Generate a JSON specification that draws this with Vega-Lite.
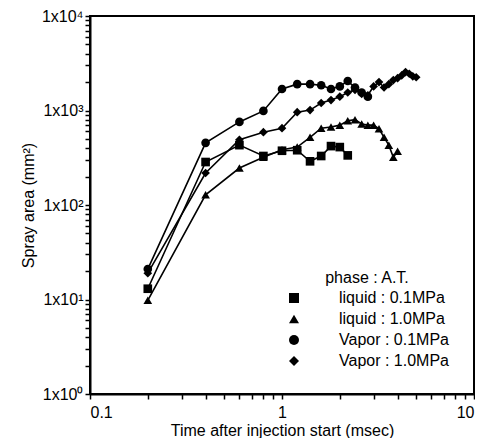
{
  "$schema": "https://vega.github.io/schema/vega-lite/v6.json",
  "width": 384,
  "height": 378,
  "padding": {"left": 20, "top": 8, "right": 0, "bottom": 0},
  "config": {
    "view": {"stroke": "black", "strokeWidth": 2},
    "font": "Liberation Sans",
    "axis": {
      "domainColor": "black", "domainWidth": 2,
      "tickColor": "black", "tickWidth": 1.5,
      "labelFontSize": 16, "labelColor": "black",
      "titleFontSize": 16, "titleFontWeight": "normal", "titleColor": "black",
      "grid": false
    }
  },
  "data": {"values": [
    {"t": 0.2, "a": 13, "s": "liquid : 0.1MPa"},
    {"t": 0.4, "a": 285, "s": "liquid : 0.1MPa"},
    {"t": 0.6, "a": 430, "s": "liquid : 0.1MPa"},
    {"t": 0.8, "a": 330, "s": "liquid : 0.1MPa"},
    {"t": 1.0, "a": 375, "s": "liquid : 0.1MPa"},
    {"t": 1.2, "a": 380, "s": "liquid : 0.1MPa"},
    {"t": 1.4, "a": 290, "s": "liquid : 0.1MPa"},
    {"t": 1.6, "a": 330, "s": "liquid : 0.1MPa"},
    {"t": 1.8, "a": 420, "s": "liquid : 0.1MPa"},
    {"t": 2.0, "a": 410, "s": "liquid : 0.1MPa"},
    {"t": 2.2, "a": 335, "s": "liquid : 0.1MPa"},
    {"t": 0.2, "a": 9.8, "s": "liquid : 1.0MPa"},
    {"t": 0.4, "a": 128, "s": "liquid : 1.0MPa"},
    {"t": 0.6, "a": 246, "s": "liquid : 1.0MPa"},
    {"t": 0.8, "a": 320, "s": "liquid : 1.0MPa"},
    {"t": 1.0, "a": 385, "s": "liquid : 1.0MPa"},
    {"t": 1.2, "a": 410, "s": "liquid : 1.0MPa"},
    {"t": 1.4, "a": 520, "s": "liquid : 1.0MPa"},
    {"t": 1.6, "a": 650, "s": "liquid : 1.0MPa"},
    {"t": 1.8, "a": 670, "s": "liquid : 1.0MPa"},
    {"t": 2.0, "a": 700, "s": "liquid : 1.0MPa"},
    {"t": 2.2, "a": 780, "s": "liquid : 1.0MPa"},
    {"t": 2.4, "a": 800, "s": "liquid : 1.0MPa"},
    {"t": 2.6, "a": 720, "s": "liquid : 1.0MPa"},
    {"t": 2.8, "a": 700, "s": "liquid : 1.0MPa"},
    {"t": 3.0, "a": 700, "s": "liquid : 1.0MPa"},
    {"t": 3.2, "a": 640, "s": "liquid : 1.0MPa"},
    {"t": 3.4, "a": 520, "s": "liquid : 1.0MPa"},
    {"t": 3.6, "a": 430, "s": "liquid : 1.0MPa"},
    {"t": 3.8, "a": 320, "s": "liquid : 1.0MPa"},
    {"t": 4.0, "a": 370, "s": "liquid : 1.0MPa"},
    {"t": 0.2, "a": 21, "s": "Vapor : 0.1MPa"},
    {"t": 0.4, "a": 455, "s": "Vapor : 0.1MPa"},
    {"t": 0.6, "a": 757, "s": "Vapor : 0.1MPa"},
    {"t": 0.8, "a": 990, "s": "Vapor : 0.1MPa"},
    {"t": 1.0, "a": 1690, "s": "Vapor : 0.1MPa"},
    {"t": 1.2, "a": 1900, "s": "Vapor : 0.1MPa"},
    {"t": 1.4, "a": 1900, "s": "Vapor : 0.1MPa"},
    {"t": 1.6, "a": 1850, "s": "Vapor : 0.1MPa"},
    {"t": 1.8, "a": 1690, "s": "Vapor : 0.1MPa"},
    {"t": 2.0, "a": 1800, "s": "Vapor : 0.1MPa"},
    {"t": 2.2, "a": 2050, "s": "Vapor : 0.1MPa"},
    {"t": 2.4, "a": 1750, "s": "Vapor : 0.1MPa"},
    {"t": 2.6, "a": 1550, "s": "Vapor : 0.1MPa"},
    {"t": 2.8, "a": 1400, "s": "Vapor : 0.1MPa"},
    {"t": 0.2, "a": 19, "s": "Vapor : 1.0MPa"},
    {"t": 0.4, "a": 218, "s": "Vapor : 1.0MPa"},
    {"t": 0.6, "a": 490, "s": "Vapor : 1.0MPa"},
    {"t": 0.8, "a": 590, "s": "Vapor : 1.0MPa"},
    {"t": 1.0, "a": 650, "s": "Vapor : 1.0MPa"},
    {"t": 1.2, "a": 960, "s": "Vapor : 1.0MPa"},
    {"t": 1.4, "a": 1010, "s": "Vapor : 1.0MPa"},
    {"t": 1.6, "a": 1200, "s": "Vapor : 1.0MPa"},
    {"t": 1.8, "a": 1290, "s": "Vapor : 1.0MPa"},
    {"t": 2.0, "a": 1400, "s": "Vapor : 1.0MPa"},
    {"t": 2.2, "a": 1550, "s": "Vapor : 1.0MPa"},
    {"t": 2.4, "a": 1650, "s": "Vapor : 1.0MPa"},
    {"t": 2.6, "a": 1500, "s": "Vapor : 1.0MPa"},
    {"t": 2.8, "a": 1450, "s": "Vapor : 1.0MPa"},
    {"t": 3.0, "a": 1800, "s": "Vapor : 1.0MPa"},
    {"t": 3.2, "a": 2000, "s": "Vapor : 1.0MPa"},
    {"t": 3.4, "a": 1750, "s": "Vapor : 1.0MPa"},
    {"t": 3.6, "a": 1900, "s": "Vapor : 1.0MPa"},
    {"t": 3.8, "a": 2100, "s": "Vapor : 1.0MPa"},
    {"t": 4.0, "a": 2200, "s": "Vapor : 1.0MPa"},
    {"t": 4.2, "a": 2350, "s": "Vapor : 1.0MPa"},
    {"t": 4.4, "a": 2550, "s": "Vapor : 1.0MPa"},
    {"t": 4.6, "a": 2450, "s": "Vapor : 1.0MPa"},
    {"t": 4.8, "a": 2300, "s": "Vapor : 1.0MPa"},
    {"t": 5.0, "a": 2250, "s": "Vapor : 1.0MPa"}
  ]},
  "encoding": {
    "x": {"field": "t", "type": "quantitative",
      "scale": {"type": "log", "domain": [0.1, 10], "nice": false},
      "axis": {"title": "Time after injection start (msec)",
        "values": [0.1,0.2,0.3,0.4,0.5,0.6,0.7,0.8,0.9,1,2,3,4,5,6,7,8,9,10],
        "labelExpr": "datum.value == 0.1 ? '0.1' : datum.value == 1 ? '1' : datum.value == 10 ? '10' : ''",
        "tickSize": 5,
        "labelPadding": 5, "titlePadding": 2}},
    "y": {"field": "a", "type": "quantitative",
      "scale": {"type": "log", "domain": [1, 10000], "nice": false},
      "axis": {"title": "Spray area (mm²)",
        "values": [1,2,3,4,5,6,7,8,9,10,20,30,40,50,60,70,80,90,100,200,300,400,500,600,700,800,900,1000,2000,3000,4000,5000,6000,7000,8000,9000,10000],
        "labelExpr": "datum.value == 1 ? '1x10⁰' : datum.value == 10 ? '1x10¹' : datum.value == 100 ? '1x10²' : datum.value == 1000 ? '1x10³' : datum.value == 10000 ? '1x10⁴' : ''",
        "tickSize": 5,
        "labelPadding": 2, "titlePadding": 5}}
  },
  "layer": [
    {
      "mark": {"type": "line", "color": "black", "strokeWidth": 1.6},
      "encoding": {
        "detail": {"field": "s", "type": "nominal"}
      }
    },
    {
      "mark": {"type": "point", "filled": true, "size": 75, "opacity": 1, "color": "black"},
      "encoding": {
        "shape": {"field": "s", "type": "nominal",
          "scale": {"domain": ["liquid : 0.1MPa", "liquid : 1.0MPa", "Vapor : 0.1MPa", "Vapor : 1.0MPa"], "range": ["square", "triangle-up", "circle", "diamond"]},
          "legend": {
            "title": "phase : A.T.", "orient": "bottom-right", "offset": 25,
            "padding": 0, "symbolOffset": 0, "labelOffset": 37, "rowPadding": 5, "titlePadding": 4,
            "titleAnchor": "middle",
            "symbolSize": 100, "labelFontSize": 16, "titleFontSize": 16, "titleFontWeight": "normal",
            "labelColor": "black", "titleColor": "black",
            "symbolFillColor": "black", "symbolStrokeColor": "black", "symbolOpacity": 1
          }}
      }
    }
  ]
}
